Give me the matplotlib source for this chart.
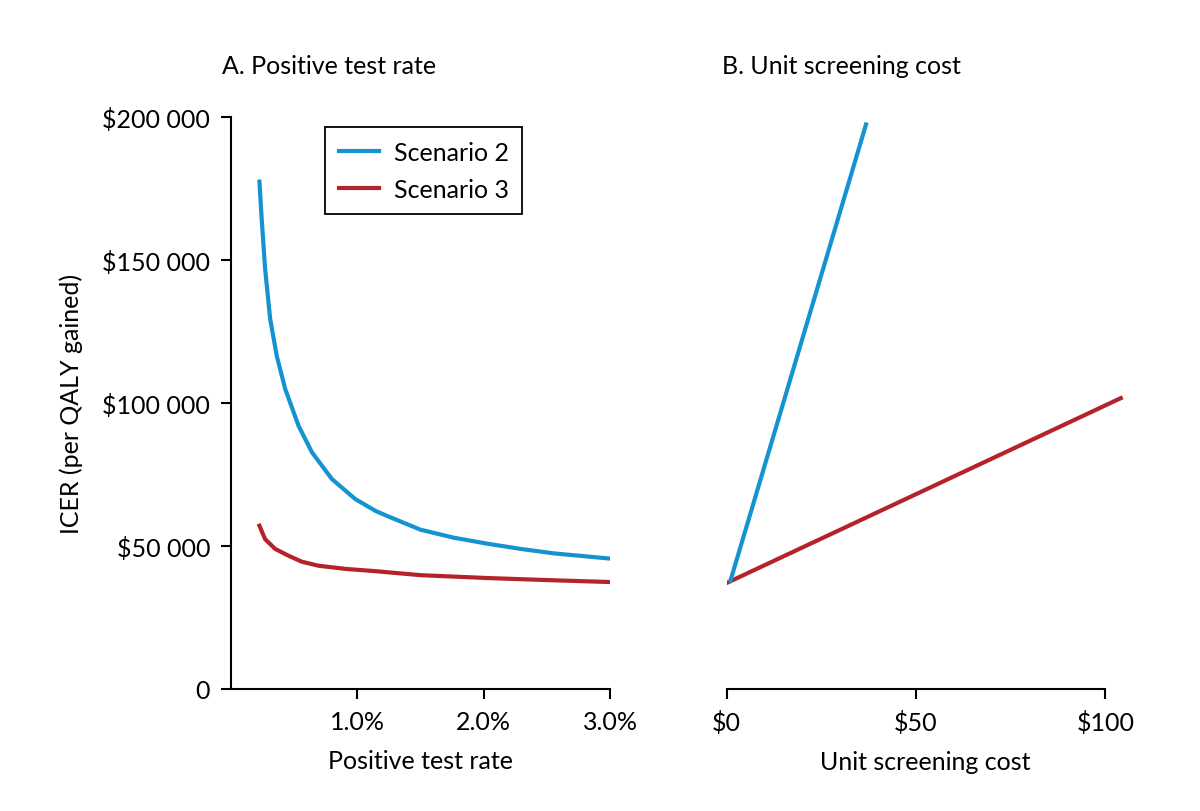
import matplotlib
matplotlib.use("Agg")
import matplotlib.pyplot as plt
from matplotlib.ticker import FuncFormatter

plt.rcParams['font.family'] = ['Lato', 'DejaVu Sans']
plt.rcParams['font.size'] = 18

# Panel A: ICER vs positive test rate (%)
rate_s2 = [0.225, 0.243, 0.270, 0.310, 0.362, 0.429, 0.534, 0.640, 0.799,
           0.984, 1.143, 1.236, 1.5, 1.764, 2.03, 2.29, 2.56, 3.0]
icer_s2_a = [177400, 164300, 146900, 129400, 116500, 104900, 92100, 82800, 73400,
             66400, 62300, 60500, 55700, 52900, 50800, 49000, 47400, 45600]
rate_s3 = [0.225, 0.270, 0.349, 0.455, 0.561, 0.693, 0.905, 1.143, 1.5,
           2.03, 2.56, 3.0]
icer_s3_a = [57100, 52400, 49000, 46600, 44500, 43100, 42000, 41200, 39800,
             38800, 38000, 37400]

# Panel B: ICER vs unit screening cost ($)
cost_s2 = [1.0, 36.8]
icer_s2_b = [37900, 197400]
cost_s3 = [0.2, 104.1]
icer_s3_b = [37200, 101700]

blue = '#1592d0'
red = '#b5232a'


def money(v, pos):
    if v == 0:
        return '0'
    return '$' + format(int(v), ',').replace(',', ' ')


fig = plt.figure(figsize=(12, 8.12), dpi=100)
ax1 = fig.add_axes([231/1200, 1-690/812, 379/1200, 572/812])
ax2 = fig.add_axes([726.7/1200, 1-690/812, 105*3.786/1200, 572/812])

ax1.plot(rate_s2, icer_s2_a, color=blue, lw=3, label='Scenario 2')
ax1.plot(rate_s3, icer_s3_a, color=red, lw=3, label='Scenario 3')
ax1.set_xlim(0, 3.0)
ax1.set_ylim(0, 200000)
ax1.set_xticks([1, 2, 3])
ax1.set_xticklabels(['1.0%', '2.0%', '3.0%'])
ax1.set_yticks([0, 50000, 100000, 150000, 200000])
ax1.yaxis.set_major_formatter(FuncFormatter(money))
ax1.set_xlabel('Positive test rate', labelpad=12)
ax1.set_ylabel('ICER (per QALY gained)', labelpad=14)
ax1.text(-0.025, 1.07, 'A. Positive test rate', transform=ax1.transAxes,
         ha='left', va='bottom')
for s in ['top', 'right']:
    ax1.spines[s].set_visible(False)

leg = ax1.legend(loc='upper left', bbox_to_anchor=(0.248, 0.9825), frameon=True,
                 fancybox=False, edgecolor='black', framealpha=1,
                 handlelength=1.6, borderpad=0.55, labelspacing=0.55,
                 handletextpad=0.6, borderaxespad=0)
leg.get_frame().set_linewidth(1.3)

ax2.plot(cost_s3, icer_s3_b, color=red, lw=3)
ax2.plot(cost_s2, icer_s2_b, color=blue, lw=3)
ax2.set_xlim(0, 105)
ax2.set_ylim(0, 200000)
ax2.set_xticks([0, 50, 100])
ax2.set_xticklabels(['$0', '$50', '$100'])
ax2.set_yticks([])
ax2.spines['bottom'].set_bounds(0, 100)
for s in ['top', 'right', 'left']:
    ax2.spines[s].set_visible(False)
ax2.set_xlabel('Unit screening cost', labelpad=12)
ax2.text(-0.012, 1.07, 'B. Unit screening cost', transform=ax2.transAxes,
         ha='left', va='bottom')

for ax in (ax1, ax2):
    for s in ax.spines.values():
        s.set_linewidth(1.5)
    ax.tick_params(width=1.5, length=7, pad=8)

fig.savefig('out.png', dpi=100)
